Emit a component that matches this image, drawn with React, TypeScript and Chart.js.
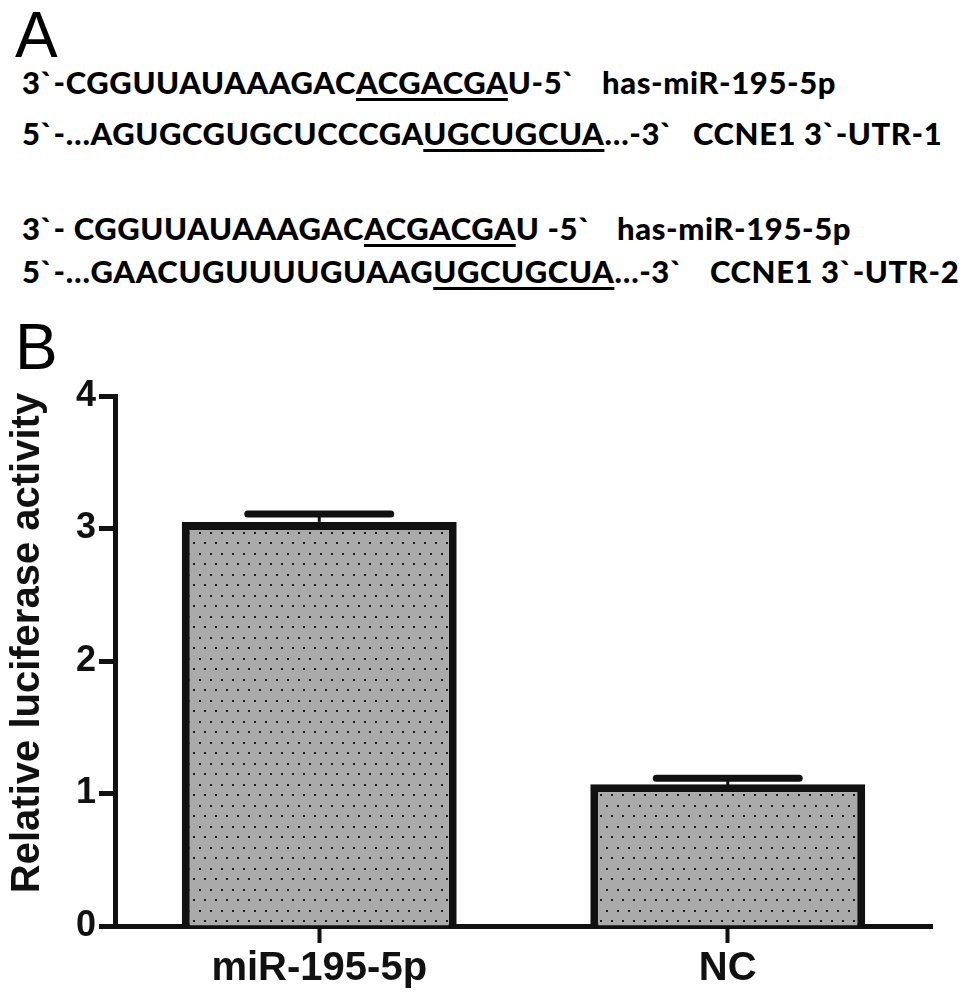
import React, { useEffect, useRef } from 'react';
import { Chart, registerables } from 'chart.js';
Chart.register(...registerables);

// ---- data ----
const categories = ['miR-195-5p', 'NC'];
const meanValues = [3.05, 1.07];
const semValues = [0.06, 0.045];
const yTickValues = [0, 1, 2, 3, 4];
const yTitle = 'Relative luciferase activity';

// panel A sequences: [before, underlined, after]
const seqLines: [string, string, string][] = [
  ['3`-CGGUUAUAAAGAC', 'ACGACGA', 'U-5`'],
  ['5`-…AGUGCGUGCUCCCGA', 'UGCUGCUA', '…-3`'],
  ['3`- CGGUUAUAAAGAC', 'ACGACGA', 'U -5`'],
  ['5`-…GAACUGUUUUGUAAG', 'UGCUGCUA', '…-3`'],
];
const seqLabels = ['has-miR-195-5p', 'CCNE1 3`-UTR-1', 'has-miR-195-5p', 'CCNE1 3`-UTR-2'];

// layout for panel A text (page coordinates)
const lineTops = [66.5, 117.5, 212.5, 255.5];
const labelLefts = [602, 693, 617, 710];

function makePattern(ctx: CanvasRenderingContext2D) {
  const c = document.createElement('canvas');
  c.width = 11;
  c.height = 21;
  const g = c.getContext('2d')!;
  g.fillStyle = '#aaaaaa';
  g.fillRect(0, 0, 11, 21);
  g.fillStyle = '#1c1c1c';
  g.fillRect(1, 1, 2, 2);
  g.fillRect(6, 11, 2, 2);
  return ctx.createPattern(c, 'repeat');
}

const FONT_FAMILY = '"Liberation Sans", Arial, sans-serif';

const errorBarPlugin = {
  id: 'errorBars',
  afterDatasetsDraw(chart: any) {
    const meta = chart.getDatasetMeta(0);
    const y = chart.scales.y;
    const ctx = chart.ctx as CanvasRenderingContext2D;
    ctx.save();
    meta.data.forEach((bar: any, i: number) => {
      const p = bar.getProps(['x', 'y', 'width'], true);
      const top = y.getPixelForValue(meanValues[i] + semValues[i]);
      const half = p.width * 0.26;
      ctx.strokeStyle = '#111';
      ctx.lineWidth = 3;
      ctx.beginPath();
      ctx.moveTo(p.x, p.y);
      ctx.lineTo(p.x, top);
      ctx.stroke();
      ctx.lineWidth = 7;
      ctx.lineCap = 'round';
      ctx.beginPath();
      ctx.moveTo(p.x - half, top);
      ctx.lineTo(p.x + half, top);
      ctx.stroke();
    });
    ctx.restore();
  },
};

// y-axis title drawn slightly above the chart-area centre, as in the figure
const yTitlePlugin = {
  id: 'yTitle',
  afterDraw(chart: any) {
    const ctx = chart.ctx as CanvasRenderingContext2D;
    const area = chart.chartArea;
    ctx.save();
    ctx.translate(28, (area.top + area.bottom) / 2 - 18);
    ctx.rotate(-Math.PI / 2);
    ctx.font = `bold 40px ${FONT_FAMILY}`;
    ctx.fillStyle = '#111';
    ctx.textAlign = 'center';
    ctx.textBaseline = 'middle';
    ctx.fillText(yTitle, 0, 0);
    ctx.restore();
  },
};

export default function App() {
  const ref = useRef<HTMLCanvasElement>(null);

  useEffect(() => {
    document.body.style.margin = '0';
    const canvas = ref.current!;
    const ctx = canvas.getContext('2d')!;
    const pattern = makePattern(ctx);
    const font = (size: number) => ({ family: FONT_FAMILY, weight: 'bold' as const, size });
    const chart = new Chart(canvas, {
      type: 'bar',
      data: {
        labels: categories,
        datasets: [
          {
            data: meanValues,
            backgroundColor: pattern as any,
            borderColor: '#111',
            borderWidth: 8,
            barPercentage: 0.673,
            categoryPercentage: 1,
          },
        ],
      },
      options: {
        animation: false,
        responsive: false,
        maintainAspectRatio: false,
        layout: { padding: { top: 96, right: 37, left: 0, bottom: 0 } },
        plugins: { legend: { display: false }, tooltip: { enabled: false } },
        scales: {
          x: {
            offset: true,
            grid: {
              display: true,
              drawOnChartArea: false,
              drawTicks: true,
              tickLength: 17,
              tickWidth: 4,
              tickColor: '#111',
              offset: false,
            },
            border: { display: true, color: '#111', width: 5 },
            ticks: { color: '#111', font: font(40), padding: 2 },
            afterFit: (s: any) => {
              s.height = 72;
            },
          },
          y: {
            min: 0,
            max: 4,
            afterBuildTicks: (s: any) => {
              s.ticks = yTickValues.map((v) => ({ value: v }));
            },
            ticks: { color: '#111', font: font(36), padding: 3 },
            grid: { drawOnChartArea: false, tickLength: 16, tickWidth: 5, tickColor: '#111' },
            border: { display: true, color: '#111', width: 5 },
            title: { display: false },
            afterFit: (s: any) => {
              s.width = 115;
            },
          },
        },
      },
      plugins: [errorBarPlugin, yTitlePlugin],
    });
    return () => chart.destroy();
  }, []);

  const seqStyle: React.CSSProperties = {
    position: 'absolute',
    fontFamily: 'Lato, "Open Sans", sans-serif',
    fontWeight: 900,
    fontSize: 31,
    lineHeight: '31px',
    letterSpacing: '0.6px',
    whiteSpace: 'pre',
    color: '#000',
  };

  const panelLabel: React.CSSProperties = {
    position: 'absolute',
    left: 15,
    fontFamily: FONT_FAMILY,
    fontSize: 64,
    lineHeight: '64px',
    color: '#000',
  };

  return (
    <div style={{ position: 'relative', width: 969, height: 998, background: '#fff', overflow: 'hidden' }}>
      <div style={{ ...panelLabel, top: 3 }}>A</div>
      {seqLines.map((l, i) => (
        <div key={'s' + i} style={{ ...seqStyle, left: 22, top: lineTops[i] }}>
          {l[0]}
          <span style={{ textDecoration: 'underline', textDecorationThickness: '3px', textUnderlineOffset: '4px' }}>
            {l[1]}
          </span>
          {l[2]}
        </div>
      ))}
      {seqLabels.map((t, i) => (
        <div key={'l' + i} style={{ ...seqStyle, left: labelLefts[i], top: lineTops[i] }}>
          {t}
        </div>
      ))}
      <div style={{ ...panelLabel, top: 315 }}>B</div>
      <canvas ref={ref} width={969} height={698} style={{ position: 'absolute', left: 0, top: 300, width: 969, height: 698 }} />
    </div>
  );
}
